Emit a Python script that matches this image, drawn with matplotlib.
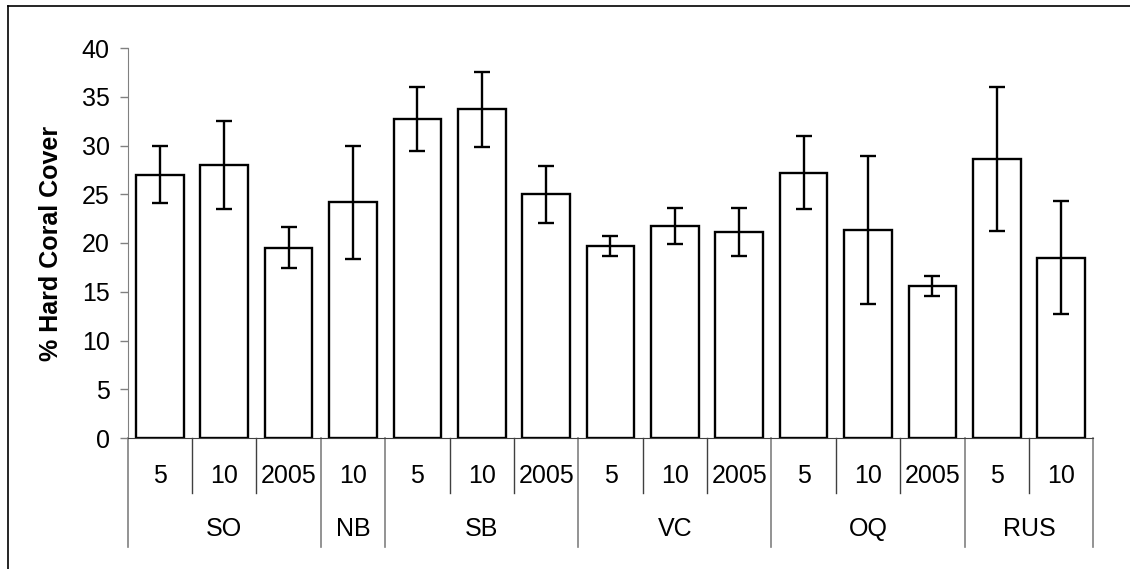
import matplotlib.pyplot as plt
from matplotlib.lines import Line2D
import matplotlib.transforms as mtransforms

plt.rcParams['font.family'] = ['Liberation Sans', 'DejaVu Sans']

sites = ['SO', 'NB', 'SB', 'VC', 'OQ', 'RUS']
sub_labels = [['5', '10', '2005'], ['10'], ['5', '10', '2005'],
              ['5', '10', '2005'], ['5', '10', '2005'], ['5', '10']]
cover = [27.0, 28.0, 19.5, 24.2, 32.7, 33.7, 25.0, 19.7, 21.7, 21.1,
         27.2, 21.3, 15.6, 28.6, 18.5]
err = [2.9, 4.5, 2.1, 5.8, 3.25, 3.85, 2.9, 1.0, 1.85, 2.45,
       3.75, 7.6, 1.0, 7.4, 5.8]

W, H = 1130, 569
fig = plt.figure(figsize=(W / 100, H / 100), dpi=100)

# outer frame (only top and left are visible in the original)
fig.add_artist(Line2D([8 / W, 8 / W], [0, 1 - 6 / H], color='black', lw=1.2,
                      transform=fig.transFigure))
fig.add_artist(Line2D([8 / W, 1], [1 - 6 / H, 1 - 6 / H], color='black', lw=1.2,
                      transform=fig.transFigure))

x0, x1, ytop, ybot = 127.7, 1093.3, 48, 438
ax = fig.add_axes([x0 / W, 1 - ybot / H, (x1 - x0) / W, (ybot - ytop) / H])

n = len(cover)
xs = list(range(n))
ax.bar(xs, cover, width=0.74, color='white', edgecolor='black', linewidth=1.7, zorder=2)
ax.errorbar(xs, cover, yerr=err, fmt='none', ecolor='black', elinewidth=1.7,
            capsize=5.5, capthick=1.7, zorder=3)

ax.set_xlim(-0.5, n - 0.5)
ax.set_ylim(0, 40)
ax.set_yticks(range(0, 41, 5))
ax.tick_params(axis='y', direction='out', length=6, width=1, color='#808080',
               labelsize=18, pad=7)
ax.set_xticks([])
for s in ['top', 'right']:
    ax.spines[s].set_visible(False)
ax.spines['left'].set_color('#808080')
ax.spines['bottom'].set_color('#404040')

fig.text(51 / W, 1 - 243 / H, '% Hard Coral Cover', rotation=90, ha='center',
         va='center', fontsize=18, fontweight='bold')

# hierarchical category axis
trans = mtransforms.blended_transform_factory(ax.transData, ax.transAxes)
h = ybot - ytop
lvl1 = -55 / h
lvl2 = -109 / h
pos = 0
boundaries = [-0.5]
for site, subs in zip(sites, sub_labels):
    for lab in subs:
        ax.text(pos, -38 / h, lab, transform=trans, ha='center', va='center', fontsize=18)
        pos += 1
    ax.text(pos - len(subs) / 2 - 0.5, -91 / h, site, transform=trans, ha='center',
            va='center', fontsize=18)
    boundaries.append(pos - 0.5)

for i in range(n + 1):
    b = i - 0.5
    if b in boundaries:
        ax.add_line(Line2D([b, b], [0, lvl2], transform=trans, color='#808080',
                           lw=1.2, clip_on=False))
    else:
        ax.add_line(Line2D([b, b], [0, lvl1], transform=trans, color='#404040',
                           lw=1.0, clip_on=False))

fig.savefig('out.png', dpi=100)
